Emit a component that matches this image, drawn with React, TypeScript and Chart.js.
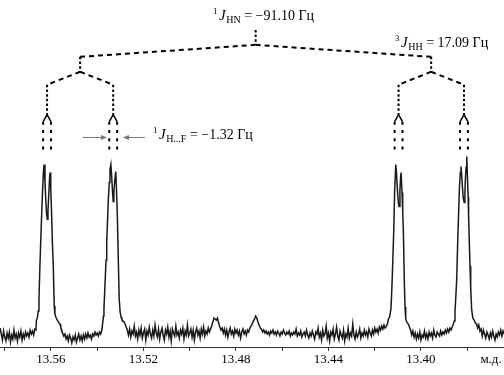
import React, { useEffect, useRef } from 'react';
import { Chart, registerables } from 'chart.js';

Chart.register(...registerables);

// ---------- spectrum: [chemical shift (ppm), intensity (arb. units)] ----------
const baselineA: [number, number][] = [
  [13.582, 4], [13.5815, -2], [13.581, -8], [13.5805, 1], [13.58, -5], [13.5795, -9], [13.579, -1], [13.5785, -6],
  [13.578, 0], [13.5775, -10], [13.577, -3], [13.5765, -7], [13.576, 2], [13.5755, -6], [13.575, -2], [13.5745, -9],
  [13.574, -1], [13.5735, -5], [13.573, 1], [13.5725, -8], [13.572, -2], [13.5715, -6], [13.571, 0], [13.5705, -4],
  [13.57, -1], [13.5695, -5], [13.569, 2], [13.5685, -2], [13.568, 1], [13.5675, -3], [13.567, 3], [13.5665, 2],
];
const doubletA: [number, number][] = [
  [13.5663, 12], [13.5659, 14], [13.5655, 21], [13.5652, 33], [13.5648, 66], [13.5643, 100], [13.5638, 133],
  [13.5633, 160], [13.563, 168], [13.5626, 150], [13.5622, 130], [13.5619, 118], [13.5616, 113], [13.5613, 122],
  [13.5609, 140], [13.5606, 155], [13.5604, 160], [13.5601, 145], [13.5597, 116], [13.5594, 90], [13.559, 66],
  [13.5586, 26], [13.5583, 18], [13.5579, 15], [13.5575, 13], [13.557, 11], [13.5565, 9], [13.5561, 8], [13.5558, 5],
];
const baselineB: [number, number][] = [
  [13.5555, 3], [13.555, -1], [13.5545, -4], [13.554, -2], [13.5535, -7], [13.553, -4], [13.5525, -9], [13.552, -3],
  [13.5515, -6], [13.551, -11], [13.5505, -5], [13.55, -8], [13.5495, -3], [13.549, -10], [13.5485, -6], [13.548, -2],
  [13.5475, -8], [13.547, -4], [13.5465, -9], [13.546, -3], [13.5455, -7], [13.545, -2], [13.5445, -6], [13.544, -1],
  [13.5435, -5], [13.543, -3], [13.5425, -7], [13.542, -2], [13.5415, -4], [13.541, 0], [13.5405, -3], [13.54, -1],
  [13.5395, -4], [13.539, 0], [13.5385, -2], [13.538, 2],
];
const doubletB: [number, number][] = [
  [13.5376, 10], [13.5373, 16], [13.5371, 23], [13.5366, 50], [13.5362, 72], [13.5359, 90], [13.5352, 133],
  [13.5348, 150], [13.5345, 163], [13.5341, 168], [13.5338, 158], [13.5335, 145], [13.5331, 131], [13.5328, 140],
  [13.5325, 150], [13.532, 161], [13.5317, 145], [13.5313, 116], [13.5309, 73], [13.5305, 33], [13.5301, 20],
  [13.5297, 15], [13.5294, 13], [13.5288, 11], [13.5283, 10], [13.5278, 7],
];
const baselineC: [number, number][] = [
  [13.5275, 5], [13.527, 2], [13.5265, -3], [13.526, 3], [13.5255, -5], [13.525, 1], [13.5245, -2], [13.524, 6],
  [13.5235, -4], [13.523, 0], [13.5225, -7], [13.522, 2], [13.5215, -3], [13.521, 4], [13.5205, -6], [13.52, -1],
  [13.5195, 3], [13.519, -8], [13.5185, 1], [13.518, -3], [13.5175, 5], [13.517, -2], [13.5165, -6], [13.516, 2],
  [13.5155, -4], [13.515, 7], [13.5145, -1], [13.514, -5], [13.5135, 3], [13.513, -7], [13.5125, 0], [13.512, 4],
  [13.5115, -3], [13.511, -8], [13.5105, 2], [13.51, -2], [13.5095, 5], [13.509, -5], [13.5085, 1], [13.508, -9],
  [13.5075, 3], [13.507, -1], [13.5065, -4], [13.506, 6], [13.5055, -3], [13.505, 0], [13.5045, -6], [13.504, 2],
  [13.5035, -2], [13.503, 4], [13.5025, -7], [13.502, 1], [13.5015, -3], [13.501, 7], [13.5005, -4], [13.5, -1],
  [13.4995, 3], [13.499, -5], [13.4985, 2], [13.498, -8], [13.4975, 0], [13.497, 4], [13.4965, -3], [13.496, 1],
  [13.4955, -6], [13.495, 3], [13.4945, -2], [13.494, 5], [13.4935, -4], [13.493, 1], [13.4925, -2], [13.492, 4],
  [13.4915, 0], [13.491, 3], [13.4905, 6], [13.49, 10], [13.4895, 14], [13.489, 13], [13.4885, 12], [13.488, 14],
  [13.4875, 9], [13.487, 5], [13.4865, 2], [13.486, 4], [13.4855, -1], [13.485, 3], [13.4845, -3], [13.484, 2],
  [13.4835, -5], [13.483, 0], [13.4825, 4], [13.482, -2], [13.4815, 1], [13.481, -4], [13.4805, 3], [13.48, -1],
  [13.4795, 2], [13.479, -3], [13.4785, 1], [13.478, -6], [13.4775, 0], [13.477, 3], [13.4765, -2], [13.476, 1],
  [13.4755, -3], [13.475, 2], [13.4745, 0], [13.474, 4], [13.4735, 6], [13.473, 8], [13.4725, 11], [13.472, 13],
  [13.4715, 16], [13.471, 14], [13.4705, 10], [13.47, 7], [13.4695, 4], [13.469, 3], [13.4685, 0], [13.468, 2],
  [13.4675, -1], [13.467, 1], [13.4665, -2], [13.466, 0], [13.4655, -3], [13.465, 1], [13.4645, -1], [13.464, 2],
  [13.4635, -2], [13.463, 0], [13.4625, -3], [13.462, 1], [13.4615, -1], [13.461, -4], [13.4605, 0], [13.46, -2],
  [13.4595, 2], [13.459, -1], [13.4585, -3], [13.458, 0], [13.4575, -2], [13.457, 1], [13.4565, -4], [13.456, -1],
  [13.4555, -3], [13.455, 0], [13.4545, -2], [13.454, 3], [13.4535, -4], [13.453, -1], [13.4525, -3], [13.452, 1],
  [13.4515, -5], [13.451, -2], [13.4505, 0], [13.45, -4], [13.4495, 2], [13.449, -3], [13.4485, -6], [13.448, -1],
  [13.4475, -4], [13.447, 1], [13.4465, -3], [13.446, -7], [13.4455, 0], [13.445, -2], [13.4445, 4], [13.444, -5],
  [13.4435, -1], [13.443, -8], [13.4425, 2], [13.442, -4], [13.4415, -2], [13.441, 6], [13.4405, -6], [13.44, -1],
  [13.4395, -9], [13.439, 0], [13.4385, -3], [13.438, 3], [13.4375, -7], [13.437, -2], [13.4365, 5], [13.436, -4],
  [13.4355, -8], [13.435, 1], [13.4345, -3], [13.434, -6], [13.4335, 2], [13.433, -9], [13.4325, -2], [13.432, -5],
  [13.4315, 4], [13.431, -6], [13.4305, -1], [13.43, -4], [13.4295, 8], [13.429, -3], [13.4285, -7], [13.428, 0],
  [13.4275, -5], [13.427, -2], [13.4265, 3], [13.426, -6], [13.4255, -1], [13.425, -4], [13.4245, 2], [13.424, -3],
  [13.4235, 0], [13.423, -5], [13.4225, 3], [13.422, -1], [13.4215, -4], [13.421, 2], [13.4205, -2], [13.42, 4],
  [13.4195, 0], [13.419, 3], [13.4185, -1], [13.418, 5], [13.4175, 2], [13.417, 6], [13.4165, 3], [13.416, 7],
  [13.4155, 4], [13.415, 6],
];
const doubletC: [number, number][] = [
  [13.4145, 8], [13.4141, 13], [13.4136, 15], [13.413, 23], [13.4127, 38], [13.4124, 56], [13.4118, 100],
  [13.4114, 140], [13.4109, 168], [13.4106, 160], [13.4102, 143], [13.4098, 130], [13.4095, 126], [13.4091, 143],
  [13.4088, 155], [13.4086, 160], [13.4082, 140], [13.4079, 120], [13.4076, 100], [13.4072, 50], [13.4069, 25],
  [13.4066, 13], [13.4061, 10], [13.4055, 8], [13.405, 5],
];
const baselineD: [number, number][] = [
  [13.4045, 2], [13.404, -3], [13.4035, 1], [13.403, -5], [13.4025, -1], [13.402, -7], [13.4015, -2], [13.401, -6],
  [13.4005, 0], [13.4, -8], [13.3995, -3], [13.399, -5], [13.3985, 1], [13.398, -6], [13.3975, -2], [13.397, -7],
  [13.3965, 0], [13.396, -4], [13.3955, -1], [13.395, -6], [13.3945, 2], [13.394, -3], [13.3935, -5], [13.393, 0],
  [13.3925, -2], [13.392, -4], [13.3915, 1], [13.391, -3], [13.3905, 0], [13.39, -2], [13.3895, 2], [13.389, -1],
  [13.3885, 3], [13.388, 0], [13.3875, 4], [13.387, 2], [13.3865, 5], [13.386, 8],
];
const doubletD: [number, number][] = [
  [13.3856, 11], [13.3853, 20], [13.3846, 50], [13.384, 100], [13.3834, 143], [13.383, 160], [13.3827, 166],
  [13.3824, 158], [13.382, 143], [13.3817, 134], [13.3813, 130], [13.381, 140], [13.3808, 153], [13.3805, 165],
  [13.3802, 176], [13.3799, 155], [13.3796, 135], [13.3794, 116], [13.3791, 90], [13.3788, 66], [13.3785, 45],
  [13.3781, 23], [13.3777, 16], [13.3774, 13], [13.377, 12], [13.3765, 9], [13.3759, 8],
];
const baselineE: [number, number][] = [
  [13.3755, 4], [13.375, 7], [13.3745, 1], [13.374, 3], [13.3735, -4], [13.373, 2], [13.3725, -2], [13.372, -6],
  [13.3715, 0], [13.371, -3], [13.3705, -7], [13.37, -1], [13.3695, -5], [13.369, 1], [13.3685, -4], [13.368, -8],
  [13.3675, -2], [13.367, -5], [13.3665, 0], [13.366, -3], [13.3655, 2], [13.365, -4], [13.3645, 1], [13.364, -2],
];

// ---------- splitting tree (ppm) ----------
const spectrumCentre = 13.4715;                       // centre of 1J(HN) doublet
const doubletCentres = [13.5474, 13.3956];            // centres of 3J(HH) doublets
const lineCentres = [13.5617, 13.5331, 13.4097, 13.3814]; // centres of 1J(H...F) doublets
const hfHalfSplit = 0.0017;

// ---------- axis ----------
const tickValuesPpm = [13.58, 13.56, 13.54, 13.52, 13.5, 13.48, 13.46, 13.44, 13.42, 13.4, 13.38];
const labelledTicks = [13.56, 13.52, 13.48, 13.44, 13.4];
const axisUnit = 'м.д.';
const xMin = 13.3641;
const xMax = 13.58205;

// ---------- labels ----------
const labelJHN = { sup: '1', sub: 'HN', value: ' = −91.10 Гц' };
const labelJHH = { sup: '3', sub: 'HH', value: ' = 17.09 Гц' };
const labelJHF = { sup: '1', sub: 'H...F', value: ' = −1.32 Гц' };

// tree heights in intensity units
const lv = { top: 303, l0: 288, l1: 276, l1b: 261, l2: 248, l2b: 218, l3: 211, l3b: 182 };

const FONT = '"Liberation Serif", "Times New Roman", serif';

function seg(a: [number, number], b: [number, number], dash: number[] | null, width = 2) {
  return {
    type: 'line' as const,
    data: [{ x: a[0], y: a[1] }, { x: b[0], y: b[1] }],
    borderColor: '#000',
    borderWidth: width,
    borderDash: dash || [],
    pointRadius: 0,
    fill: false,
    tension: 0,
  };
}

function drawLabel(ctx: CanvasRenderingContext2D, x0: number, yb: number, lab: { sup: string; sub: string; value: string }) {
  let x = x0;
  ctx.textAlign = 'left';
  ctx.textBaseline = 'alphabetic';
  ctx.fillStyle = '#000';
  ctx.font = `9px ${FONT}`;
  ctx.fillText(lab.sup, x, yb - 6);
  x += ctx.measureText(lab.sup).width + 1.5;
  ctx.font = `italic 15px ${FONT}`;
  ctx.fillText('J', x, yb);
  x += ctx.measureText('J').width + 0.5;
  ctx.font = `10px ${FONT}`;
  ctx.fillText(lab.sub, x, yb + 3);
  x += ctx.measureText(lab.sub).width;
  ctx.font = `14px ${FONT}`;
  ctx.fillText(lab.value, x, yb);
}

function arrow(ctx: CanvasRenderingContext2D, x1: number, y: number, x2: number) {
  const dir = Math.sign(x2 - x1);
  ctx.beginPath();
  ctx.moveTo(x1, y);
  ctx.lineTo(x2 - dir * 4, y);
  ctx.stroke();
  ctx.beginPath();
  ctx.moveTo(x2, y);
  ctx.lineTo(x2 - dir * 6, y - 2.5);
  ctx.lineTo(x2 - dir * 6, y + 2.5);
  ctx.closePath();
  ctx.fill();
}

const annotationPlugin = {
  id: 'nmrAnnotations',
  afterDatasetsDraw(chart: any) {
    const { ctx } = chart;
    const xs = chart.scales.x;
    const ys = chart.scales.y;
    ctx.save();
    drawLabel(ctx, xs.getPixelForValue(13.4899), ys.getPixelForValue(313), labelJHN);
    drawLabel(ctx, xs.getPixelForValue(13.4112), ys.getPixelForValue(286), labelJHH);
    drawLabel(ctx, xs.getPixelForValue(13.5159), ys.getPixelForValue(194), labelJHF);
    ctx.strokeStyle = '#777';
    ctx.fillStyle = '#777';
    ctx.lineWidth = 1;
    const ay = Math.round(ys.getPixelForValue(196)) + 0.5;
    arrow(ctx, xs.getPixelForValue(13.5462), ay, xs.getPixelForValue(13.5358));
    arrow(ctx, xs.getPixelForValue(13.5194), ay, xs.getPixelForValue(13.5289));
    ctx.fillStyle = '#000';
    ctx.font = `13px ${FONT}`;
    ctx.textAlign = 'center';
    ctx.textBaseline = 'middle';
    ctx.fillText(axisUnit, xs.getPixelForValue(13.3697), xs.top + 4 + 1 + 7.8);
    ctx.restore();
  },
};

export default function App() {
  const ref = useRef<HTMLCanvasElement | null>(null);
  useEffect(() => {
    document.body.style.margin = '0';
    const spectrum = [
      ...baselineA, ...doubletA, ...baselineB, ...doubletB, ...baselineC,
      ...doubletC, ...baselineD, ...doubletD, ...baselineE,
    ].map(([x, y]) => ({ x, y }));

    const vDash = [2.5, 2.2];
    const dDash = [5, 4];
    const cDash = [3, 5.3];
    const tree: any[] = [];
    tree.push(seg([spectrumCentre, lv.top], [spectrumCentre, lv.l0], vDash));
    doubletCentres.forEach((d) => {
      tree.push(seg([spectrumCentre, lv.l0], [d, lv.l1], dDash));
      tree.push(seg([d, lv.l1], [d, lv.l1b], vDash));
    });
    [[0, 0], [0, 1], [1, 2], [1, 3]].forEach(([di, li]) => {
      tree.push(seg([doubletCentres[di], lv.l1b], [lineCentres[li], lv.l2], dDash));
    });
    lineCentres.forEach((c) => {
      tree.push(seg([c, lv.l2], [c, lv.l2b], vDash));
      [-1, 1].forEach((s) => {
        tree.push(seg([c, lv.l2b], [c + s * hfHalfSplit, lv.l3], null, 1.5));
        tree.push(seg([c + s * hfHalfSplit, lv.l3], [c + s * hfHalfSplit, lv.l3b], cDash));
      });
    });

    const chart = new Chart(ref.current as HTMLCanvasElement, {
      type: 'line',
      data: {
        datasets: [
          {
            data: spectrum,
            borderColor: '#1a1a1a',
            borderWidth: 1.5,
            pointRadius: 0,
            tension: 0,
            fill: false,
          },
          ...tree,
        ],
      },
      options: {
        animation: false,
        responsive: false,
        devicePixelRatio: 1,
        layout: { padding: { left: 0, right: 0, top: 0, bottom: 6.4 } },
        plugins: { legend: { display: false }, tooltip: { enabled: false } },
        scales: {
          x: {
            type: 'linear',
            reverse: true,
            min: xMin,
            max: xMax,
            afterBuildTicks: (scale: any) => {
              scale.ticks = tickValuesPpm.map((value) => ({ value }));
            },
            ticks: {
              autoSkip: false,
              maxRotation: 0,
              padding: 1,
              color: '#000',
              font: { family: FONT, size: 13 },
              callback: (value: any) =>
                labelledTicks.some((t) => Math.abs(t - Number(value)) < 1e-6) ? Number(value).toFixed(2) : '',
            },
            grid: { drawOnChartArea: false, drawTicks: true, tickLength: 4, color: '#333', lineWidth: 1 },
            border: { display: true, color: '#333', width: 1 },
          },
          y: { display: false, min: -15, max: 333 },
        },
      },
      plugins: [annotationPlugin],
    } as any);
    return () => chart.destroy();
  }, []);
  return (
    <div style={{ width: 504, height: 375 }}>
      <canvas ref={ref} width={504} height={375} style={{ display: 'block' }} />
    </div>
  );
}
